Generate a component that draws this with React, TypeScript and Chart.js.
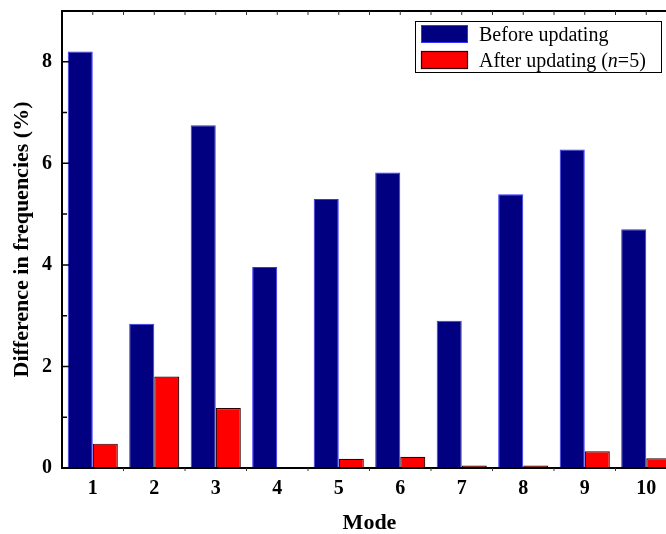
import React, { useEffect, useRef } from "react";
import { Chart, registerables } from "chart.js";

Chart.register(...registerables);

const modes = ["1", "2", "3", "4", "5", "6", "7", "8", "9", "10"];
const beforeUpdating = [8.2, 2.84, 6.75, 3.96, 5.3, 5.82, 2.9, 5.39, 6.27, 4.7];
const afterUpdating = [0.48, 1.8, 1.18, 0.02, 0.18, 0.22, 0.05, 0.05, 0.33, 0.19];
const yMajorTicks = [0, 2, 4, 6, 8];

const SERIF = "'Liberation Serif', 'Times New Roman', serif";

const framePlugin = {
  id: "frame",
  afterDraw(chart: any) {
    const { ctx, chartArea } = chart;
    const { left, right, top, bottom } = chartArea;
    const ys = chart.scales.y;
    ctx.save();
    ctx.strokeStyle = "#000";
    ctx.lineWidth = 2;
    ctx.beginPath();
    ctx.moveTo(left, top);
    ctx.lineTo(left, bottom);
    ctx.moveTo(left - 1, bottom);
    ctx.lineTo(right, bottom);
    ctx.moveTo(left - 1, top);
    ctx.lineTo(right, top);
    ctx.stroke();

    // y ticks (inward)
    ctx.lineWidth = 1.5;
    ctx.beginPath();
    for (let v = 0; v <= 9; v++) {
      const y = ys.getPixelForValue(v);
      const len = yMajorTicks.includes(v) ? 7 : 5;
      ctx.moveTo(left, y);
      ctx.lineTo(left + len, y);
    }
    ctx.stroke();

    // top ticks at half categories
    const step = (right - left) / modes.length;
    ctx.lineWidth = 1;
    ctx.strokeStyle = "#333";
    ctx.beginPath();
    for (let i = 1; i < modes.length * 2; i++) {
      const x = left + (i * step) / 2;
      ctx.moveTo(x, top);
      ctx.lineTo(x, top + 4);
    }
    // bottom ticks at boundaries
    for (let i = 1; i < modes.length; i++) {
      const x = left + i * step;
      ctx.moveTo(x, bottom);
      ctx.lineTo(x, bottom + 3);
    }
    ctx.stroke();

    // legend
    const lx = 415, ly = 21, lw = 246, lh = 51;
    ctx.fillStyle = "#fff";
    ctx.fillRect(lx, ly, lw, lh);
    ctx.strokeStyle = "#000";
    ctx.lineWidth = 1;
    ctx.strokeRect(lx + 0.5, ly + 0.5, lw, lh);
    ctx.fillStyle = "#000080";
    ctx.fillRect(421, 25, 47, 18);
    ctx.strokeStyle = "#3333ff";
    ctx.strokeRect(421.5, 25.5, 46, 17);
    ctx.fillStyle = "#ff0000";
    ctx.fillRect(421, 51, 47, 18);
    ctx.strokeStyle = "#2a0000";
    ctx.lineWidth = 1.2;
    ctx.strokeRect(421.5, 51.5, 46, 17);

    ctx.fillStyle = "#000";
    ctx.textBaseline = "alphabetic";
    ctx.textAlign = "left";
    ctx.font = `20px ${SERIF}`;
    ctx.fillText(chart.data.datasets[0].label, 479, 41);
    let tx = 479;
    const parts: [string, boolean][] = [["After updating (", false], ["n", true], ["=5)", false]];
    for (const [t, it] of parts) {
      ctx.font = `${it ? "italic " : ""}20px ${SERIF}`;
      ctx.fillText(t, tx, 67);
      tx += ctx.measureText(t).width;
    }
    ctx.restore();
  },
};

export default function App() {
  const ref = useRef<HTMLCanvasElement>(null);
  useEffect(() => {
    if (!ref.current) return;
    const chart = new Chart(ref.current, {
      type: "bar",
      data: {
        labels: modes,
        datasets: [
          {
            label: "Before updating",
            data: beforeUpdating,
            backgroundColor: "#000080",
            borderColor: "#3333ff",
            borderWidth: 1,
            borderSkipped: "bottom",
          },
          {
            label: "After updating (n=5)",
            data: afterUpdating,
            backgroundColor: "#ff0000",
            borderColor: "#2a0000",
            borderWidth: 1.2,
            borderSkipped: "bottom",
          },
        ],
      },
      options: {
        animation: false,
        responsive: false,
        devicePixelRatio: 1,
        layout: { padding: { top: 0, left: 0, right: 0, bottom: 0 } },
        datasets: { bar: { categoryPercentage: 0.815, barPercentage: 1 } },
        plugins: { legend: { display: false }, tooltip: { enabled: false } },
        scales: {
          x: {
            type: "category",
            offset: true,
            grid: { display: false, drawTicks: false },
            border: { display: false },
            ticks: {
              color: "#000",
              font: { family: SERIF, size: 20, weight: "bold" },
              padding: 9,
              maxRotation: 0,
            },
            title: {
              display: true,
              text: "Mode",
              color: "#000",
              font: { family: SERIF, size: 22, weight: "bold", lineHeight: 1.0 },
              padding: { top: 0, bottom: 0 },
            },
            afterFit: (s: any) => {
              s.height = 66;
            },
          },
          y: {
            min: 0,
            max: 9,
            grid: { display: false, drawTicks: false },
            border: { display: false },
            ticks: {
              stepSize: 1,
              color: "#000",
              font: { family: SERIF, size: 20, weight: "bold", lineHeight: 0.1 },
              padding: 10,
              callback: (v: any) => (yMajorTicks.includes(Number(v)) ? String(v) : ""),
            },
            title: {
              display: true,
              text: "Difference in frequencies (%)",
              color: "#000",
              font: { family: SERIF, size: 22, weight: "bold" },
              padding: { top: 9, bottom: 0 },
            },
            afterFit: (s: any) => {
              s.width = 62;
            },
          },
        },
      },
      plugins: [framePlugin],
    } as any);
    return () => chart.destroy();
  }, []);
  return (
    <div
      style={{
        position: "fixed",
        left: 0,
        top: 0,
        width: 666,
        height: 534,
        overflow: "hidden",
        background: "#fff",
      }}
    >
      <canvas ref={ref} width={677} height={534} style={{ display: "block", width: 677, height: 534 }} />
    </div>
  );
}
